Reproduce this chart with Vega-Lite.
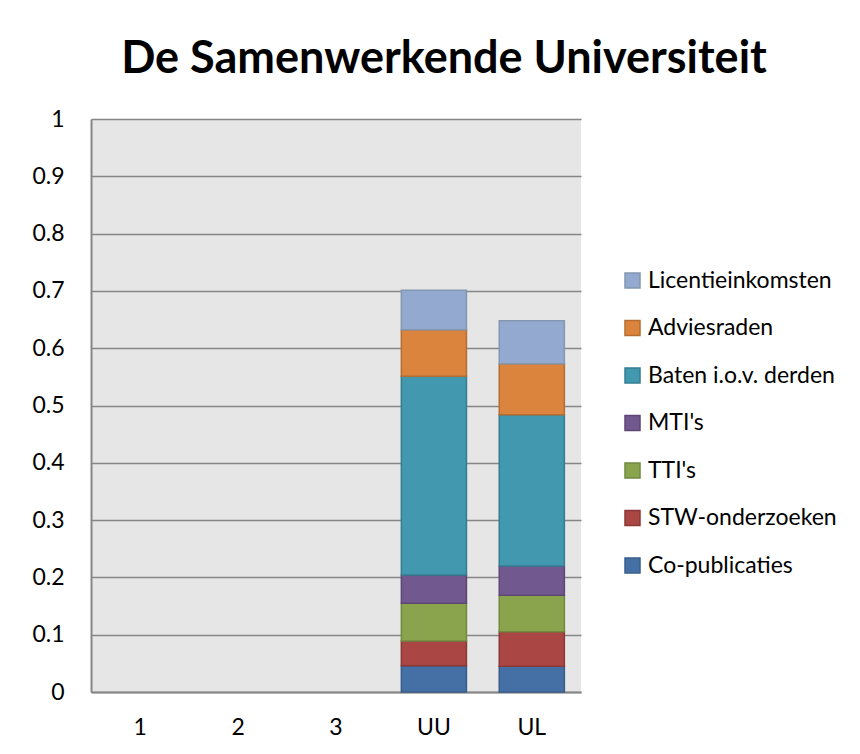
{
  "$schema": "https://vega.github.io/schema/vega-lite/v6.json",
  "width": 490,
  "height": 573,
  "autosize": "none",
  "padding": {"left": 91, "top": 119, "right": 279, "bottom": 62},
  "background": "white",
  "title": {
    "text": "De Samenwerkende Universiteit",
    "font": "Lato",
    "fontWeight": "bold",
    "fontSize": 45,
    "color": "#000000",
    "anchor": "middle",
    "frame": "group",
    "dx": 108,
    "baseline": "alphabetic",
    "offset": -10
  },
  "data": {
    "values": [
      {"uni": "UU", "reeks": "Co-publicaties", "k": 1, "waarde": 0.046},
      {"uni": "UU", "reeks": "STW-onderzoeken", "k": 2, "waarde": 0.043},
      {"uni": "UU", "reeks": "TTI's", "k": 3, "waarde": 0.066},
      {"uni": "UU", "reeks": "MTI's", "k": 4, "waarde": 0.049},
      {"uni": "UU", "reeks": "Baten i.o.v. derden", "k": 5, "waarde": 0.347},
      {"uni": "UU", "reeks": "Adviesraden", "k": 6, "waarde": 0.081},
      {"uni": "UU", "reeks": "Licentieinkomsten", "k": 7, "waarde": 0.069},
      {"uni": "UL", "reeks": "Co-publicaties", "k": 1, "waarde": 0.045},
      {"uni": "UL", "reeks": "STW-onderzoeken", "k": 2, "waarde": 0.060},
      {"uni": "UL", "reeks": "TTI's", "k": 3, "waarde": 0.064},
      {"uni": "UL", "reeks": "MTI's", "k": 4, "waarde": 0.051},
      {"uni": "UL", "reeks": "Baten i.o.v. derden", "k": 5, "waarde": 0.264},
      {"uni": "UL", "reeks": "Adviesraden", "k": 6, "waarde": 0.089},
      {"uni": "UL", "reeks": "Licentieinkomsten", "k": 7, "waarde": 0.075}
    ]
  },
  "mark": {"type": "bar", "strokeWidth": 1.5},
  "encoding": {
    "x": {
      "field": "uni",
      "type": "nominal",
      "scale": {"domain": ["1", "2", "3", "UU", "UL"], "paddingInner": 0.335, "paddingOuter": 0.17},
      "axis": {
        "title": null,
        "labelAngle": 0,
        "labelFont": "Lato",
        "labelFontSize": 23,
        "labelColor": "#000000",
        "labelPadding": 24,
        "ticks": false,
        "domainColor": "#868686",
        "domainWidth": 2
      }
    },
    "y": {
      "field": "waarde",
      "type": "quantitative",
      "stack": "zero",
      "scale": {"domain": [0, 1], "nice": false},
      "axis": {
        "title": null,
        "values": [0, 0.1, 0.2, 0.3, 0.4, 0.5, 0.6, 0.7, 0.8, 0.9, 1],
        "format": "~g",
        "labelFont": "Lato",
        "labelFontSize": 23,
        "labelColor": "#000000",
        "labelPadding": 27,
        "ticks": false,
        "domainColor": "#868686",
        "domainWidth": 2,
        "grid": true,
        "gridColor": "#868686",
        "gridWidth": 1.5
      }
    },
    "order": {"field": "k", "type": "quantitative"},
    "fill": {
      "field": "reeks",
      "type": "nominal",
      "scale": {
        "domain": ["Licentieinkomsten", "Adviesraden", "Baten i.o.v. derden", "MTI's", "TTI's", "STW-onderzoeken", "Co-publicaties"],
        "range": ["#93a9cf", "#db843d", "#4198af", "#71588f", "#89a44c", "#aa4644", "#4470a5"]
      },
      "legend": {
        "title": null,
        "orient": "none",
        "legendX": 530,
        "legendY": 150,
        "symbolType": "square",
        "symbolSize": 225,
        "symbolStrokeWidth": 1.5,
        "labelFont": "Lato",
        "labelFontSize": 23,
        "labelColor": "#000000",
        "labelOffset": 4,
        "labelLimit": 300,
        "rowPadding": 23.5
      }
    },
    "stroke": {
      "field": "reeks",
      "type": "nominal",
      "scale": {
        "domain": ["Licentieinkomsten", "Adviesraden", "Baten i.o.v. derden", "MTI's", "TTI's", "STW-onderzoeken", "Co-publicaties"],
        "range": ["#8497b0", "#b66d31", "#357d91", "#5c4776", "#71893f", "#8c3836", "#385d8a"]
      },
      "legend": {
        "title": null,
        "orient": "none",
        "legendX": 530,
        "legendY": 150,
        "symbolType": "square",
        "symbolSize": 225,
        "symbolStrokeWidth": 1.5,
        "labelFont": "Lato",
        "labelFontSize": 23,
        "labelColor": "#000000",
        "labelOffset": 4,
        "labelLimit": 300,
        "rowPadding": 23.5
      }
    }
  },
  "config": {
    "view": {"fill": "#e6e6e6", "stroke": null}
  }
}
